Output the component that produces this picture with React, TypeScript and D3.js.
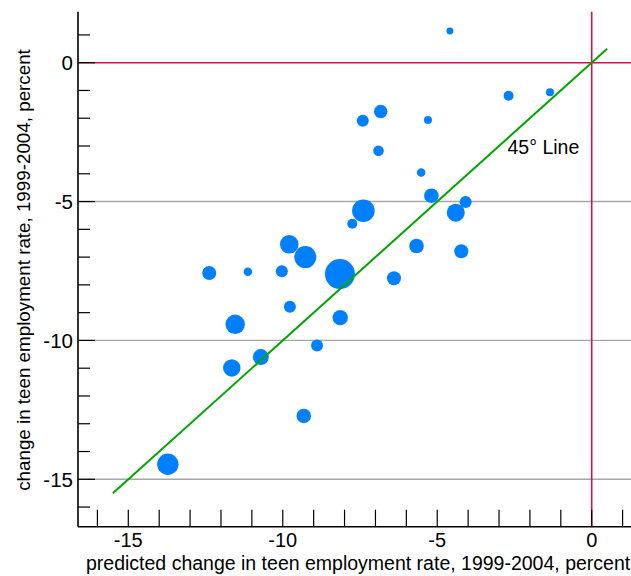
import React from "react";
import * as d3 from "d3";

// predicted change (x), actual change (y), weight (marker size ~ area)
const predicted = [-4.59, -2.69, -1.35, -7.41, -6.83, -5.30, -6.90, -5.52, -5.19, -4.08,
  -7.39, -4.40, -7.75, -5.67, -4.22, -8.15, -6.40, -9.79, -9.27, -12.38,
  -11.13, -10.03, -9.77, -8.14, -11.54, -8.89, -10.71, -11.65, -9.32, -13.72];
const actual = [1.14, -1.19, -1.06, -2.09, -1.76, -2.06, -3.17, -3.95, -4.79, -5.02,
  -5.33, -5.40, -5.80, -6.60, -6.79, -7.61, -7.76, -6.54, -7.00, -7.57,
  -7.53, -7.51, -8.79, -9.18, -9.42, -10.18, -10.60, -10.99, -12.72, -14.46];
const weights = [12, 25, 16, 36, 45, 16, 28, 18, 53, 36,
  128, 81, 25, 53, 49, 225, 49, 86, 121, 49,
  18, 36, 36, 59, 94, 36, 64, 76, 53, 114];

const xTicks = [-16, -15, -14, -13, -12, -11, -10, -9, -8, -7, -6, -5, -4, -3, -2, -1, 0, 1];
const xTickLabels = [-15, -10, -5, 0];
const yTicks = [1, 0, -1, -2, -3, -4, -5, -6, -7, -8, -9, -10, -11, -12, -13, -14, -15, -16];
const yTickLabels = [0, -5, -10, -15];
const gridValues = [-5, -10, -15];
const lineEnds = [-15.5, 0.5];

const W = 631;
const H = 576;
const FONT = "'Liberation Sans', Arial, Helvetica, sans-serif";

export default function App() {
  const left = 78, right = 631, top = 11.7, bottom = 526.7;
  const x = d3.scaleLinear().domain([-16.628, 1.272]).range([left, right]);
  const y = d3.scaleLinear().domain([1.836, -16.707]).range([top, bottom]);
  const r = d3.scaleSqrt().domain([0, 225]).range([0, 15]);

  const pts = predicted.map((p, i) => ({ p, a: actual[i], w: weights[i] }));
  const line = d3.line<number>().x((v) => x(v)).y((v) => y(v));

  return (
    <svg width={W} height={H} style={{ position: "absolute", left: 0, top: 0, display: "block" }}
      fontFamily={FONT}>
      <rect width={W} height={H} fill="#fff" />
      {/* grid lines */}
      {gridValues.map((g) => (
        <line key={g} x1={left} x2={right} y1={y(g)} y2={y(g)} stroke="#a6a6a6" strokeWidth={1.4} />
      ))}
      {/* zero lines */}
      <line x1={left} x2={right} y1={y(0)} y2={y(0)} stroke="#c8174b" strokeWidth={1.6} />
      <line x1={x(0)} x2={x(0)} y1={top} y2={bottom} stroke="#c8174b" strokeWidth={1.6} />
      {/* points */}
      {pts.map((d, i) => (
        <circle key={i} cx={x(d.p)} cy={y(d.a)} r={r(d.w)} fill="#0080ff" />
      ))}
      {/* 45 degree line */}
      <path d={line(lineEnds) || ""} stroke="#00a600" strokeWidth={2} fill="none" />
      <text x={507.5} y={154} fontSize={19.5} fill="#000">45° Line</text>
      {/* y axis */}
      <line x1={left} x2={left} y1={top} y2={bottom} stroke="#000" strokeWidth={1.6} />
      {yTicks.map((t) => (
        <line key={t} x1={left} x2={left + (t % 5 === 0 ? 17 : 12)} y1={y(t)} y2={y(t)}
          stroke="#000" strokeWidth={1.2} />
      ))}
      {yTickLabels.map((t) => (
        <text key={t} x={73} y={y(t)} dy="0.36em" textAnchor="end" fontSize={20.5} fill="#000">{t}</text>
      ))}
      {/* x axis */}
      <line x1={left} x2={right} y1={bottom} y2={bottom} stroke="#000" strokeWidth={1.6} />
      {xTicks.map((t) => (
        <line key={t} x1={x(t)} x2={x(t)} y1={bottom} y2={bottom - 17} stroke="#000" strokeWidth={1.2} />
      ))}
      {xTickLabels.map((t) => (
        <text key={t} x={x(t)} y={546.5} textAnchor="middle" fontSize={20} fill="#000">{t}</text>
      ))}
      <text x={86} y={569.5} fontSize={19.5} fill="#000">predicted change in teen employment rate, 1999-2004, percent</text>
      <text transform={`translate(29.5, 270) rotate(-90)`} textAnchor="middle" fontSize={18.8} fill="#000">
        change in teen employment rate, 1999-2004, percent
      </text>
    </svg>
  );
}
